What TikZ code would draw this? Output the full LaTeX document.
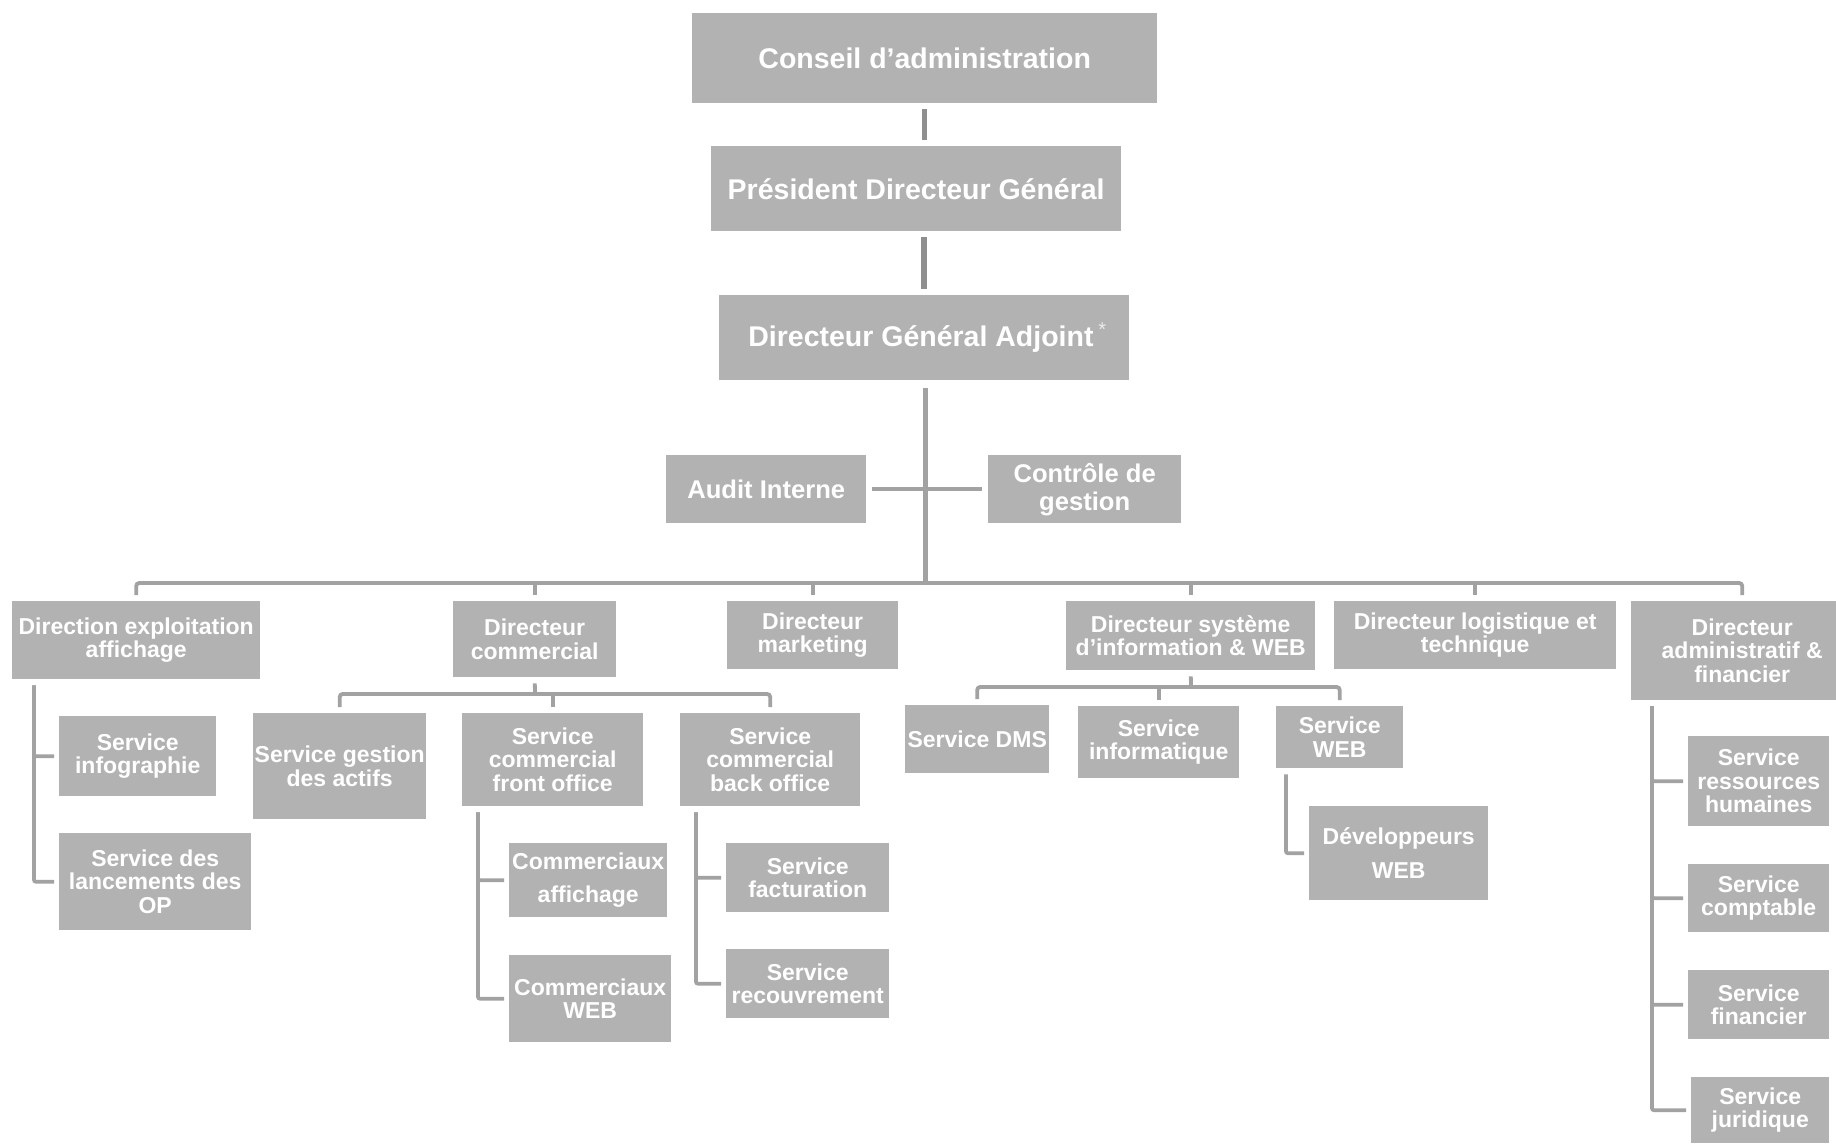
\documentclass[tikz,border=0pt]{standalone}
\usepackage{fontspec}
\setmainfont{Liberation Sans}
\usepackage{tikz}
\usetikzlibrary{positioning}
\definecolor{boxgray}{HTML}{B2B2B2}
\definecolor{linegray}{HTML}{A2A2A2}
\definecolor{topgray}{HTML}{8F8F8F}

\begin{document}
\begin{tikzpicture}[x=1pt, y=-1pt,
    unit/.style={rectangle, fill=boxgray, text=white, align=center, inner sep=0pt, anchor=north west, font=\bfseries\fontsize{23}{23.5}\selectfont},
    head/.style={unit, font=\bfseries\fontsize{28.5}{30}\selectfont},
    staff/.style={unit, font=\bfseries\fontsize{25.6}{28}\selectfont},
    link/.style={draw=linegray, line width=3.8pt},
    spine/.style={draw=topgray, line width=5.5pt},
    branch/.style={link, rounded corners=2pt, shorten <=6pt, shorten >=5pt}]

    \fill[white, use as bounding box] (0,0) rectangle (1836,1143);

    % direction generale
    \node[head, minimum width=465, minimum height=90] (conseil) at (692,13) {Conseil d’administration};
    \node[head, minimum width=410, minimum height=85] (pdg) at (711,146) {Président Directeur Général};
    \node[head, minimum width=410, minimum height=85] (dga) at (719,295) {\hspace*{6pt}Directeur Général Adjoint\,\raisebox{10pt}{\color{white!92!black}\mdseries\fontsize{20}{20}\selectfont*}};
    \node[staff, minimum width=200, minimum height=68] (audit) at (666,455) {Audit Interne};
    \node[staff, minimum width=193, minimum height=68] (ctrl) at (988,455) {Contrôle de\\gestion};

    % directions
    \node[unit, minimum width=248, minimum height=78] (dirExp) at (12,601) {Direction exploitation\\affichage};
    \node[unit, minimum width=163, minimum height=76] (dirCom) at (453,601) {Directeur\\commercial};
    \node[unit, minimum width=171, minimum height=68] (dirMkt) at (727,601) {Directeur\\marketing};
    \node[unit, minimum width=249, minimum height=69] (dsi) at (1066,601) {Directeur système\\d’information \& WEB};
    \node[unit, minimum width=282, minimum height=68] (dirLog) at (1334,601) {Directeur logistique et\\technique};
    \node[unit, minimum width=222, minimum height=99] (dirAdm) at (1631,601) {Directeur\\administratif \&\\financier};

    % services
    \node[unit, minimum width=157, minimum height=80] (infog) at (59,716) {Service\\infographie};
    \node[unit, minimum width=192, minimum height=97] (lanc) at (59,833) {Service des\\lancements des\\OP};
    \node[unit, minimum width=173, minimum height=106] (actifs) at (253,713) {Service gestion\\des actifs};
    \node[unit, minimum width=181, minimum height=93] (front) at (462,713) {Service\\commercial\\front office};
    \node[unit, minimum width=180, minimum height=93] (back) at (680,713) {Service\\commercial\\back office};
    \node[unit, minimum width=158, minimum height=74] (comAff) at (509,843) {Commerciaux\\[9pt]affichage};
    \node[unit, minimum width=162, minimum height=87] (comWeb) at (509,955) {Commerciaux\\WEB};
    \node[unit, minimum width=163, minimum height=69] (fact) at (726,843) {Service\\facturation};
    \node[unit, minimum width=163, minimum height=69] (recouv) at (726,949) {Service\\recouvrement};
    \node[unit, minimum width=144, minimum height=68] (dms) at (905,705) {Service DMS};
    \node[unit, minimum width=161, minimum height=72] (info) at (1078,706) {Service\\informatique};
    \node[unit, minimum width=127, minimum height=62] (web) at (1276,706) {Service\\WEB};
    \node[unit, minimum width=179, minimum height=94] (devWeb) at (1309,806) {Développeurs\\[10pt]WEB};
    \node[unit, minimum width=141, minimum height=90] (rh) at (1688,736) {Service\\ressources\\humaines};
    \node[unit, minimum width=141, minimum height=68] (compta) at (1688,864) {Service\\comptable};
    \node[unit, minimum width=141, minimum height=69] (fin) at (1688,970) {Service\\financier};
    \node[unit, minimum width=138, minimum height=66] (jur) at (1691,1077) {Service\\juridique};

    \coordinate (bus) at (925,583);
    \coordinate (comBus) at (535,694);
    \coordinate (dsiBus) at (1191,687);

    % spine
    \draw[spine, shorten <=6pt, shorten >=6pt] (conseil.south) -- (conseil.south |- pdg.north);
    \draw[spine, shorten <=6pt, shorten >=6pt] (pdg.south -| dga.north) -- (dga.north);
    \draw[spine, line width=5pt, draw=linegray, shorten <=8pt] (dga.south -| bus) -- (bus);
    \draw[link, shorten <=6pt, shorten >=6pt] (audit.east) -- (ctrl.west);

    % directions bus
    \draw[link, rounded corners=3pt, shorten <=6pt, shorten >=6pt] (dirExp.north) |- (bus) -| (dirAdm.north);
    \foreach \d in {dirCom, dirMkt, dsi, dirLog}
        \draw[link, shorten >=6pt] (\d.north |- bus) -- (\d.north);

    % commercial
    \draw[link, shorten <=6pt] (dirCom.south) -- (comBus);
    \draw[link, rounded corners=3pt, shorten <=6pt, shorten >=6pt] (actifs.north) |- (comBus) -| (back.north);
    \draw[link, shorten >=6pt] (front.north |- comBus) -- (front.north);

    % systeme d'information
    \draw[link, shorten <=6pt] (dsi.south) -- (dsiBus);
    \draw[link, rounded corners=3pt, shorten <=6pt, shorten >=6pt] (dms.north) |- (dsiBus) -| (web.north);
    \draw[link, shorten >=6pt] (info.north |- dsiBus) -- (info.north);

    % side branches
    \foreach \s in {infog, lanc}
        \draw[branch] ([xshift=22pt]dirExp.south west) |- (\s.west);
    \foreach \s in {comAff, comWeb}
        \draw[branch] ([xshift=16pt]front.south west) |- (\s.west);
    \foreach \s in {fact, recouv}
        \draw[branch] ([xshift=16pt]back.south west) |- (\s.west);
    \draw[branch] ([xshift=10pt]web.south west) |- (devWeb.west);
    \foreach \s in {rh, compta, fin, jur}
        \draw[branch] ([xshift=21pt]dirAdm.south west) |- (\s.west);
\end{tikzpicture}
\end{document}
